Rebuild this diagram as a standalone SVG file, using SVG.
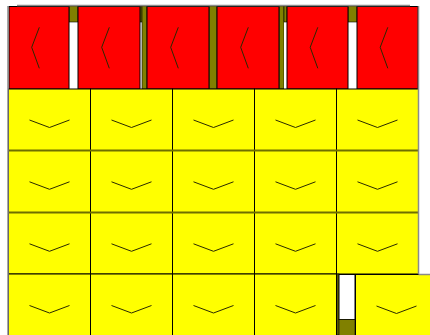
<svg xmlns="http://www.w3.org/2000/svg" xmlns:xlink="http://www.w3.org/1999/xlink" width="430" height="335" viewBox="0 0 430 335">
<style>
.red{fill:#ff0000;stroke:#000;stroke-width:1}
.yel{fill:#ffff00;stroke:#000;stroke-width:1}
.olive{fill:#808000;stroke:#000;stroke-width:0.6}
.white{fill:#fff;stroke:none}
.gray{stroke:#8a8a8a;stroke-width:1.5;fill:none}
.chev{fill:none;stroke:#2a2a00;stroke-width:1}
.rowline{stroke:#6e6e00;stroke-width:2}
</style>
<defs>
<path id="vdown" class="chev" d="M-20,0.5 L0,8 L20,0.5"/>
<path id="vleft" class="chev" d="M0.3,-20.7 L-7.3,-0.7 L0.3,20.3"/>
</defs>
<rect width="430" height="335" fill="#fff"/>
<g id="back">
<rect class="white" x="69" y="6" width="9" height="83"/>
<rect class="olive" x="69" y="6" width="9" height="16"/>
<rect class="white" x="140" y="6" width="2" height="83"/>
<rect class="olive" x="140" y="6" width="2" height="16"/>
<rect class="olive" x="142" y="6" width="5" height="83"/>
<rect class="olive" x="209" y="6" width="8" height="83"/>
<rect class="olive" x="279" y="6" width="5" height="83"/>
<rect class="white" x="284" y="6" width="3" height="83"/>
<rect class="olive" x="284" y="6" width="3" height="16"/>
<rect class="white" x="348" y="6" width="9" height="83"/>
<rect class="olive" x="348" y="6" width="9" height="16"/>
</g>
<g id="red-row">
<g id="r1"><rect class="red" x="9" y="6.5" width="60" height="82.5"/><use xlink:href="#vleft" x="39" y="48"/></g>
<g id="r2"><rect class="red" x="78" y="6.5" width="62" height="82.5"/><use xlink:href="#vleft" x="109" y="48"/></g>
<g id="r3"><rect class="red" x="147" y="6.5" width="62" height="82.5"/><use xlink:href="#vleft" x="178" y="48"/></g>
<g id="r4"><rect class="red" x="217" y="6.5" width="62" height="82.5"/><use xlink:href="#vleft" x="248" y="48"/></g>
<g id="r5"><rect class="red" x="287" y="6.5" width="61" height="82.5"/><use xlink:href="#vleft" x="317.5" y="48"/></g>
<g id="r6"><rect class="red" x="357" y="6.5" width="61" height="82.5"/><use xlink:href="#vleft" x="387.5" y="48"/></g>
</g>
<g id="yellow-grid">
<g id="y11"><rect class="yel" x="8.5" y="89" width="82" height="61.5"/><use xlink:href="#vdown" x="49.5" y="119.5"/></g>
<g id="y12"><rect class="yel" x="90.5" y="89" width="82" height="61.5"/><use xlink:href="#vdown" x="131.5" y="119.5"/></g>
<g id="y13"><rect class="yel" x="172.5" y="89" width="82" height="61.5"/><use xlink:href="#vdown" x="213.5" y="119.5"/></g>
<g id="y14"><rect class="yel" x="254.5" y="89" width="82" height="61.5"/><use xlink:href="#vdown" x="295.5" y="119.5"/></g>
<g id="y15"><rect class="yel" x="336.5" y="89" width="82" height="61.5"/><use xlink:href="#vdown" x="377.5" y="119.5"/></g>

<g id="y21"><rect class="yel" x="8.5" y="150.5" width="82" height="62"/><use xlink:href="#vdown" x="49.5" y="181.3"/></g>
<g id="y22"><rect class="yel" x="90.5" y="150.5" width="82" height="62"/><use xlink:href="#vdown" x="131.5" y="181.3"/></g>
<g id="y23"><rect class="yel" x="172.5" y="150.5" width="82" height="62"/><use xlink:href="#vdown" x="213.5" y="181.3"/></g>
<g id="y24"><rect class="yel" x="254.5" y="150.5" width="82" height="62"/><use xlink:href="#vdown" x="295.5" y="181.3"/></g>
<g id="y25"><rect class="yel" x="336.5" y="150.5" width="82" height="62"/><use xlink:href="#vdown" x="377.5" y="181.3"/></g>

<g id="y31"><rect class="yel" x="8.5" y="212.5" width="82" height="61.5"/><use xlink:href="#vdown" x="49.5" y="243.3"/></g>
<g id="y32"><rect class="yel" x="90.5" y="212.5" width="82" height="61.5"/><use xlink:href="#vdown" x="131.5" y="243.3"/></g>
<g id="y33"><rect class="yel" x="172.5" y="212.5" width="82" height="61.5"/><use xlink:href="#vdown" x="213.5" y="243.3"/></g>
<g id="y34"><rect class="yel" x="254.5" y="212.5" width="82" height="61.5"/><use xlink:href="#vdown" x="295.5" y="243.3"/></g>
<g id="y35"><rect class="yel" x="336.5" y="212.5" width="82" height="61.5"/><use xlink:href="#vdown" x="377.5" y="243.3"/></g>

<g id="y41"><rect class="yel" x="8.5" y="274" width="82" height="62"/><use xlink:href="#vdown" x="49.5" y="305"/></g>
<g id="y42"><rect class="yel" x="90.5" y="274" width="82" height="62"/><use xlink:href="#vdown" x="131.5" y="305"/></g>
<g id="y43"><rect class="yel" x="172.5" y="274" width="82" height="62"/><use xlink:href="#vdown" x="213.5" y="305"/></g>
<g id="y44"><rect class="yel" x="254.5" y="274" width="82" height="62"/><use xlink:href="#vdown" x="295.5" y="305"/></g>
<line class="rowline" x1="8.5" y1="150.5" x2="418.5" y2="150.5"/>
<line class="rowline" x1="8.5" y1="212.5" x2="418.5" y2="212.5"/>
</g>
<g id="bottom-right">
<rect class="olive" x="337" y="274" width="2" height="61"/>
<rect x="339" y="274.5" width="16" height="45" fill="#fff" stroke="#000" stroke-width="1"/>
<rect class="olive" x="339" y="319.5" width="16" height="16" stroke-width="1"/>
<g id="y45"><rect x="355.5" y="274.5" width="82" height="61" fill="#ffff00" stroke="#000" stroke-width="1"/><use xlink:href="#vdown" x="396.5" y="305.5"/></g>
</g>
<g id="frame">
<line class="gray" x1="17" y1="5.5" x2="410" y2="5.5"/>
<line class="gray" x1="8" y1="6" x2="8" y2="335"/>
<line class="gray" x1="418.5" y1="6" x2="418.5" y2="274"/>
<line class="gray" x1="418.5" y1="274.5" x2="430" y2="274.5"/>
</g>
</svg>
